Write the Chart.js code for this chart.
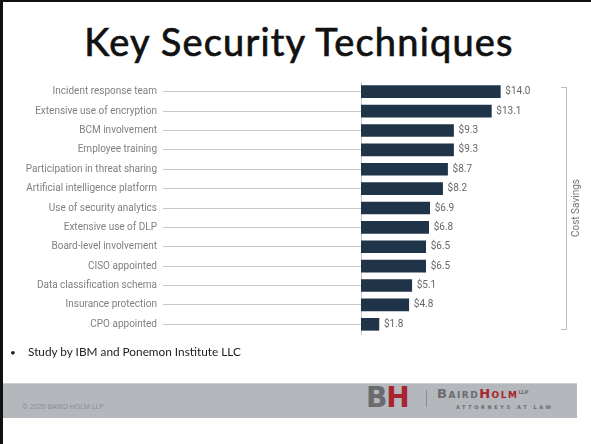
<!DOCTYPE html>
<html>
<head>
<meta charset="utf-8">
<script src="https://cdn.jsdelivr.net/npm/chart.js@4"></script>
<style>
  html, body { margin: 0; padding: 0; background: #fff; }
  body { width: 591px; height: 444px; position: relative; overflow: hidden; font-family: "Open Sans", sans-serif; }
  .frame-top { position: absolute; left: 0; top: 0; width: 591px; height: 2px; background: #111; }
  .frame-left { position: absolute; left: 0; top: 0; width: 3px; height: 444px; background: #111; }
  #title { position: absolute; left: 0; top: 18px; width: 598px; text-align: center; font-family: "Lato", sans-serif; font-weight: 400; font-size: 38px; letter-spacing: 1.2px; -webkit-text-stroke: 0.7px #111; color: #111; }
  #chartBox { position: absolute; left: 0; top: 70px; width: 591px; height: 276px; }
  #note { position: absolute; left: 10px; top: 344px; font-family: "Lato", sans-serif; font-size: 11.8px; color: #222; }
  #note span { display: inline-block; width: 18px; font-size: 10px; }
  .band { position: absolute; left: 3px; top: 383px; width: 574px; height: 34px; background: #b4b7bc; border-top: 1px solid #ccced2; }
  .copy { position: absolute; left: 22px; top: 402px; font-size: 7px; color: #8a8d92; font-family: "Open Sans", sans-serif; }
  .bh { position: absolute; left: 366px; top: 381px; font-family: "DejaVu Sans", sans-serif; font-weight: 700; font-size: 28px; letter-spacing: -1px; }
  .bh .b { color: #6a6b6e; } .bh .h { color: #a8252f; }
  .sep { position: absolute; left: 426px; top: 390px; width: 1px; height: 17px; background: #8a8c90; }
  .bhname { position: absolute; left: 437px; top: 386px; font-family: "DejaVu Sans", sans-serif; font-weight: 700; color: #6a6b6e; letter-spacing: 1.5px; font-size: 9px; }
  .bhname .big { font-size: 13px; }
  .bhname .red { color: #a8252f; }
  .bhname sup { font-size: 5px; letter-spacing: 0; }
  .atty { position: absolute; left: 456px; top: 404px; font-family: "DejaVu Sans", sans-serif; font-weight: 700; font-size: 5px; letter-spacing: 2.6px; color: #6a6b6e; }
</style>
</head>
<body>
<div class="frame-top"></div>
<div class="frame-left"></div>
<div id="title">Key Security Techniques</div>
<div id="chartBox"><canvas id="chart"></canvas></div>
<div id="note"><span>•</span>Study by IBM and Ponemon Institute LLC</div>
<div class="band"></div>
<div class="copy">© 2020 BAIRD HOLM LLP</div>
<div class="bh"><span class="b">B</span><span class="h">H</span></div>
<div class="sep"></div>
<div class="bhname"><span class="big">B</span>AIRD<span class="red"><span class="big">H</span>OLM</span><sup>LLP</sup></div>
<div class="atty">ATTORNEYS AT LAW</div>

<script>
const techniques = ["Incident response team", "Extensive use of encryption", "BCM involvement",
  "Employee training", "Participation in threat sharing", "Artificial intelligence platform",
  "Use of security analytics", "Extensive use of DLP", "Board-level involvement",
  "CISO appointed", "Data classification schema", "Insurance protection", "CPO appointed"];
const savings = [14.0, 13.1, 9.3, 9.3, 8.7, 8.2, 6.9, 6.8, 6.5, 6.5, 5.1, 4.8, 1.8];
const sideLabel = "Cost Savings";

const labelFont = '10px Roboto';

// dollar values right of each bar
const valueLabels = {
  id: 'valueLabels',
  afterDatasetsDraw(chart) {
    const ctx = chart.ctx;
    ctx.save();
    ctx.font = labelFont;
    ctx.fillStyle = '#666';
    ctx.textBaseline = 'middle';
    chart.getDatasetMeta(0).data.forEach((bar, i) => {
      ctx.fillText('$' + savings[i].toFixed(1), bar.x + 5, bar.y);
    });
    ctx.restore();
  }
};

// bracket + "Cost Savings" on the right
const sideBracket = {
  id: 'sideBracket',
  afterDraw(chart) {
    const {ctx, chartArea} = chart;
    const x = chartArea.right + 6;
    const top = chartArea.top + 5, bottom = chartArea.bottom - 5;
    ctx.save();
    ctx.strokeStyle = '#bbb';
    ctx.lineWidth = 1;
    ctx.beginPath();
    ctx.moveTo(x - 5, top + 0.5);
    ctx.lineTo(x + 0.5, top + 0.5);
    ctx.lineTo(x + 0.5, bottom + 0.5);
    ctx.lineTo(x - 5, bottom + 0.5);
    ctx.stroke();
    ctx.translate(x + 10, (top + bottom) / 2);
    ctx.rotate(-Math.PI / 2);
    ctx.font = labelFont;
    ctx.fillStyle = '#777';
    ctx.textAlign = 'center';
    ctx.textBaseline = 'middle';
    ctx.fillText(sideLabel, 0, 0);
    ctx.restore();
  }
};

new Chart(document.getElementById('chart'), {
  type: 'bar',
  data: {
    labels: techniques,
    datasets: [{
      data: savings,
      backgroundColor: '#1f3448',
      barThickness: 12
    }]
  },
  options: {
    indexAxis: 'y',
    responsive: true,
    maintainAspectRatio: false,
    animation: false,
    layout: { padding: { left: 0, right: 31, top: 4.75, bottom: 4.75 } },
    plugins: { legend: { display: false }, tooltip: { enabled: false } },
    scales: {
      x: { display: false, min: 0, max: 20 },
      y: {
        afterFit(scale) { scale.width = 361; },
        border: { display: true, color: '#c8c8c8' },
        grid: { drawOnChartArea: false, offset: false, drawTicks: true, tickLength: 198, color: '#c8c8c8' },
        ticks: { padding: 6, color: '#808080', font: { family: 'Roboto', size: 10 } }
      }
    }
  },
  plugins: [valueLabels, sideBracket]
});
</script>
</body>
</html>
